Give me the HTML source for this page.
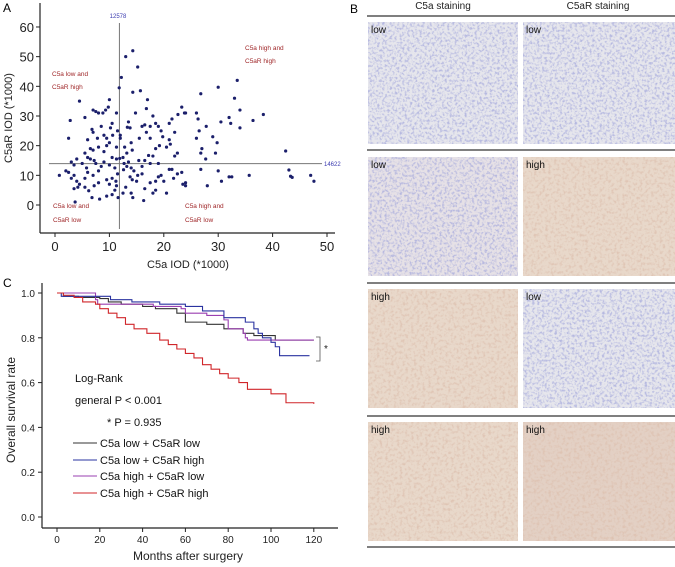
<!DOCTYPE html>
<html><head><meta charset="utf-8"><style>
html,body{margin:0;padding:0;background:#fff}
svg{display:block;font-family:"Liberation Sans",sans-serif}
</style></head><body>
<svg id="fig" width="675" height="567" viewBox="0 0 675 567" xmlns="http://www.w3.org/2000/svg">
<defs>
<filter id="tex" x="0" y="0" width="100%" height="100%">
<feTurbulence type="fractalNoise" baseFrequency="0.4" numOctaves="2" seed="3" result="n"/>
<feColorMatrix in="n" type="matrix" values="0 0 0 0 0.38  0 0 0 0 0.40  0 0 0 0 0.72  0 0 0 -3.2 1.75" result="b"/>
<feComposite in="b" in2="SourceGraphic" operator="in"/>
</filter>
<filter id="tex2" x="0" y="0" width="100%" height="100%">
<feTurbulence type="fractalNoise" baseFrequency="0.35" numOctaves="2" seed="7" result="n"/>
<feColorMatrix in="n" type="matrix" values="0 0 0 0 0.72  0 0 0 0 0.52  0 0 0 0 0.42  0 0 0 -3 1.6" result="b"/>
<feComposite in="b" in2="SourceGraphic" operator="in"/>
</filter>
</defs>
<g id="panelA"></g>
<g id="panelB"></g>
<g id="panelC"></g>
</svg>
<script>
// ---- Scatter data ----
const scatterX = [14.3,13,15.2,12.2,11.8,14.3,15.7,30,33.5,33,26.8,38.3,36.4,34,34,32.3,32,30.5,29,29.8,29.5,27,26.8,26,26,26.3,26.5,27.8,27.7,23.3,23.8,22.6,21.5,21,22,21,21.2,20.5,22,22.5,24,17,16.8,16.5,17.5,18,18.5,19,19.5,19.8,19.2,18.5,18,17.5,16,16.8,15.5,14.8,13.5,13.3,13.8,14,14.2,13.2,12.8,12.5,12,12,11.5,11.3,11.3,11.3,10.5,10.2,9.8,9.3,10,8.8,8,7,7.5,4.5,5.5,2.8,2.5,6.8,7,7.8,8.5,9,9.5,10,10.6,6,6.5,7,5.5,8,9,9.5,10.5,6.5,7.5,8.5,9,10,11,4,3,3.5,5,5.8,6,7,8,2.5,0.8,3,4,4.5,3.5,4.2,5.5,5.5,6.2,7.2,8,9.5,10,10.5,11,11.2,11.5,11.3,11.6,12.5,13,14,13.8,14.2,14,14.5,15.2,15,14.3,16.3,17.5,18,18.5,19,19.5,20.5,20,21,21.5,21.8,22.5,23.3,23.5,24,24,26.8,28,30,30.6,32,32.5,35.7,42.4,43,43.3,43.6,47,47.6,3.7,6.8,8.2,9.5,10.5,16,16.5,17.2,15.4,16,17.5,12.7,11.9,19,6,7.2,13.5,12.6,13.2,2,3.5,18.5,16.5];
const scatterY = [52,50,46.5,43,39.5,38,38.5,39.7,42,36,37.5,30.5,28.5,32,26,27.5,29.5,28,23,21,17.5,19,17.5,22.5,31,29,25,26.5,15.5,33,31,30.5,29,27.5,24.5,22,20.5,19.5,16.5,17.5,31,35.5,32.5,27,26.5,30,27.5,26.5,25,23,20,19,16.5,22.5,26.5,24.5,22.5,31,28,26.2,26,21,18.5,17.5,19.5,16,23.5,22.5,25,31,19.5,15.5,27.5,26,33,32,35.5,31,31,32,31.5,35,29.5,28.5,22.5,25.5,24.5,22.5,26.5,23.5,22.5,21,23.5,22,19,18.5,17.5,19.5,18,20,16,15.5,14,13,14.5,13.5,12.5,15.5,14.5,13.5,14,12.5,11,10,11.5,11,10,9,8,7,5.5,6,6,9,4.8,6.5,7.5,8.5,7,9,5,8,10.5,6.5,2.5,4,6,4,9.5,8.5,12.5,11.5,10,8,2.5,1.5,7.5,4,8,9.5,10,4,8,12,12,9,10.5,11,7,6.5,7.5,12,6.5,11.5,8,9.5,9.5,10,18.2,11.8,9.7,9.3,10,8,1,2.5,2,3,3.5,13,15,16.7,15,10.5,14,14,15.7,14,16,15,14.5,11.9,13,11.5,10,5,5.5];
const xTicksA = [0,10,20,30,40,50];
const yTicksA = [0,10,20,30,40,50,60];
const cutX = 12.578, cutY = 14.622;
// ---- Survival data ----
const monthsBlack = [0,3,10,20,24,30,40,46,56,60,70,78,87,92,102,120];
const survBlack   = [1.0,0.985,0.98,0.975,0.96,0.95,0.94,0.93,0.91,0.87,0.86,0.84,0.82,0.81,0.79,0.79];
const monthsBlue = [0,2,25,35,48,60,68,78,88,92,94,96,100,102,104,118];
const survBlue   = [1.0,0.985,0.97,0.96,0.95,0.94,0.92,0.89,0.87,0.84,0.82,0.80,0.78,0.76,0.72,0.72];
const monthsPurple = [0,18,19,45,58,60,70,78,80,87,88,89,120];
const survPurple   = [1.0,0.97,0.95,0.94,0.93,0.91,0.90,0.88,0.84,0.82,0.80,0.79,0.79];
const monthsRed = [0,3,8,12,18,20,24,28,32,36,42,48,52,56,60,64,68,72,76,80,85,89,96,100,107,120];
const survRed   = [1.0,0.99,0.98,0.96,0.95,0.93,0.91,0.89,0.86,0.84,0.82,0.79,0.77,0.75,0.73,0.71,0.68,0.66,0.64,0.62,0.60,0.57,0.57,0.55,0.51,0.505];
const xTicksC = [0,20,40,60,80,100,120];
const yTicksC = [0.0,0.2,0.4,0.6,0.8,1.0];

const NS='http://www.w3.org/2000/svg';
function mk(tag,attrs,parent,txt){const e=document.createElementNS(NS,tag);for(const k in attrs)e.setAttribute(k,attrs[k]);if(txt!==undefined)e.textContent=txt;parent.appendChild(e);return e;}

// ---- Panel A ----
const A=document.getElementById('panelA');
const ax=v=>55+v*5.44, ay=v=>205-v*2.967;
let t=mk('text',{x:3,y:12,'font-size':12},A,'A');


let l=mk('line',{x1:40,y1:3,x2:40,y2:233,stroke:'#222','stroke-width':1.2},A);


l=mk('line',{x1:40,y1:233,x2:335,y2:233,stroke:'#222','stroke-width':1.2},A);


xTicksA.forEach(v=>{
  mk('line',{x1:ax(v),y1:233,x2:ax(v),y2:237,stroke:'#222'},A);
  const e=mk('text',{x:ax(v),y:251,'font-size':13,'text-anchor':'middle',fill:'#222'},A,String(v));
  
  
});
yTicksA.forEach(v=>{
  mk('line',{x1:36,y1:ay(v),x2:40,y2:ay(v),stroke:'#222'},A);
  const e=mk('text',{x:34,y:ay(v)+5,'font-size':13,'text-anchor':'end',fill:'#222'},A,String(v));
  
  
});
t=mk('text',{x:188,y:268,'font-size':11,'text-anchor':'middle',fill:'#222'},A,'C5a IOD (*1000)');


t=mk('text',{x:0,y:0,'font-size':11,'text-anchor':'middle',fill:'#222',transform:'translate(12,118) rotate(-90)'},A,'C5aR IOD (*1000)');


l=mk('line',{x1:ax(cutX)-4,y1:23,x2:ax(cutX)-4,y2:229,stroke:'#777','stroke-width':1},A);


l=mk('line',{x1:49,y1:ay(cutY)+2,x2:322,y2:ay(cutY)+2,stroke:'#777','stroke-width':1},A);


t=mk('text',{x:118,y:18,'font-size':6,'text-anchor':'middle',fill:'#3b3bb0'},A,'12578');


t=mk('text',{x:324,y:166,'font-size':6,fill:'#3b3bb0'},A,'14622');


[[52,76,'C5a low and'],[52,89,'C5aR high'],[245,50,'C5a high and'],[245,63,'C5aR high'],[53,208,'C5a low and'],[53,222,'C5aR low'],[185,208,'C5a high and'],[185,222,'C5aR low']].forEach(q=>{
  const e=mk('text',{x:q[0],y:q[1],'font-size':6.5,fill:'#a0282a'},A,q[2]);
  
  
});
scatterX.forEach((v,i)=>{
  const c=mk('circle',{cx:ax(v),cy:ay(scatterY[i]),r:1.6,fill:'#1b1f6b'},A);
  
  
});

// ---- Panel B ----
const B=document.getElementById('panelB');
t=mk('text',{x:350,y:13,'font-size':12},B,'B');


t=mk('text',{x:443,y:9,'font-size':10,'text-anchor':'middle',fill:'#222'},B,'C5a staining');


t=mk('text',{x:598,y:9,'font-size':10,'text-anchor':'middle',fill:'#222'},B,'C5aR staining');


[16,150,283,416,547].forEach(y=>{
  const e=mk('line',{x1:367,y1:y,x2:675,y2:y,stroke:'#555','stroke-width':1.5},B);
  
  
});
const rows=[[22,144],[157,276],[289,408],[422,541]];
const labels=[['low','low'],['low','high'],['high','low'],['high','high']];
rows.forEach((r,i)=>{
  [[368,518],[523,675]].forEach((c,j)=>{
    const lab=labels[i][j];
    const base = lab==='low' ? (i===1&&j===0?'#e6e1e6':'#e6e6ec') : (i===3&&j===1?'#e3d0c4':'#e8d8ca');
    const g=mk('rect',{x:c[0],y:r[0],width:c[1]-c[0],height:r[1]-r[0],fill:base},B);
    
    
    mk('rect',{x:c[0],y:r[0],width:c[1]-c[0],height:r[1]-r[0],fill:'#fff',filter:lab==='low'?'url(#tex)':'url(#tex2)',opacity:0.75},B);
    const e=mk('text',{x:c[0]+3,y:r[0]+11,'font-size':10,fill:'#111'},B,lab);
    
    
  });
});

// ---- Panel C ----
const C=document.getElementById('panelC');
const cx=m=>57+m*2.14, cy=s=>517-s*224;
t=mk('text',{x:3,y:287,'font-size':12},C,'C');


l=mk('line',{x1:42,y1:283,x2:42,y2:528,stroke:'#222','stroke-width':1.2},C);


l=mk('line',{x1:42,y1:528,x2:338,y2:528,stroke:'#222','stroke-width':1.2},C);


xTicksC.forEach(v=>{
  mk('line',{x1:cx(v),y1:528,x2:cx(v),y2:532,stroke:'#222'},C);
  const e=mk('text',{x:cx(v),y:543,'font-size':10,'text-anchor':'middle',fill:'#222'},C,String(v));
  
  
});
yTicksC.forEach(v=>{
  mk('line',{x1:38,y1:cy(v),x2:42,y2:cy(v),stroke:'#222'},C);
  const e=mk('text',{x:35,y:cy(v)+4,'font-size':10,'text-anchor':'end',fill:'#222'},C,v.toFixed(1));
  
  
});
t=mk('text',{x:188,y:560,'font-size':12,'text-anchor':'middle',fill:'#222'},C,'Months after surgery');


t=mk('text',{x:0,y:0,'font-size':12,'text-anchor':'middle',fill:'#222',transform:'translate(15,410) rotate(-90)'},C,'Overall survival rate');


function step(ms,ss){let d='M'+cx(ms[0])+','+cy(ss[0]);for(let i=1;i<ms.length;i++){d+=' H'+cx(ms[i])+' V'+cy(ss[i]);}return d;}
[[monthsBlack,survBlack,'#333','curve-c5a-low-c5ar-low'],[monthsPurple,survPurple,'#9a3fb0','curve-c5a-high-c5ar-low'],[monthsBlue,survBlue,'#2a33a0','curve-c5a-low-c5ar-high'],[monthsRed,survRed,'#d0262a','curve-c5a-high-c5ar-high']].forEach(s=>{
  const p=mk('path',{d:step(s[0],s[1]),fill:'none',stroke:s[2],'stroke-width':1.1},C);
  
  
});
const br=mk('path',{d:'M316,337 H320 V361 H316',fill:'none',stroke:'#555','stroke-width':0.8},C);


t=mk('text',{x:324,y:352,'font-size':10,fill:'#222'},C,'*');


[[75,382,'Log-Rank'],[75,404,'general  P < 0.001'],[107,426,'*  P = 0.935']].forEach(q=>{
  const e=mk('text',{x:q[0],y:q[1],'font-size':11,fill:'#111'},C,q[2]);
  
  
});
[['#333','C5a low + C5aR low',443],['#2a33a0','C5a low + C5aR high',460],['#9a3fb0','C5a high + C5aR low',476],['#d0262a','C5a high + C5aR high',493]].forEach(q=>{
  const g=mk('g',{},C);
  
  
  mk('line',{x1:73,y1:q[2],x2:97,y2:q[2],stroke:q[0],'stroke-width':1.1},g);
  mk('text',{x:100,y:q[2]+4,'font-size':11,fill:'#111'},g,q[1]);
});
</script>
</body></html>
